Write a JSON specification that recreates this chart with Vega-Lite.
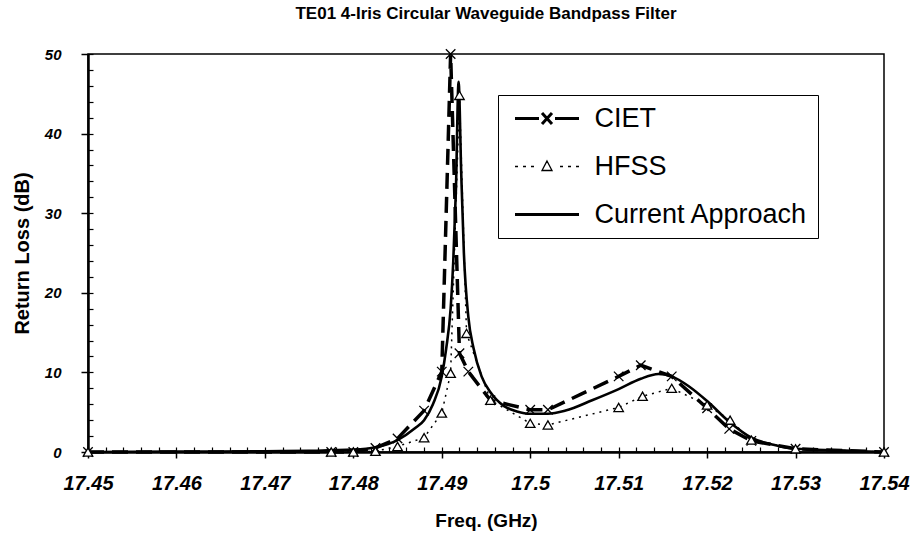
{
  "$schema": "https://vega.github.io/schema/vega-lite/v6.json",
  "width": 796,
  "height": 398,
  "autosize": {"type": "none"},
  "padding": {"left": 88, "top": 54, "right": 28, "bottom": 87},
  "background": "white",
  "title": {
    "text": "TE01 4-Iris Circular Waveguide Bandpass Filter",
    "font": "Liberation Sans",
    "fontSize": 17,
    "fontWeight": "bold",
    "color": "black",
    "anchor": "middle",
    "offset": 24
  },
  "config": {
    "view": {"stroke": "black", "strokeWidth": 1.5},
    "axis": {"grid": false, "domainColor": "black", "tickColor": "black", "labelColor": "black", "titleColor": "black"}
  },
  "data": {
    "values": [
      {"series": "CIET", "f": 17.45, "v": 0},
      {"series": "CIET", "f": 17.4775, "v": 0},
      {"series": "CIET", "f": 17.48, "v": 0},
      {"series": "CIET", "f": 17.4825, "v": 0.5},
      {"series": "CIET", "f": 17.485, "v": 1.7},
      {"series": "CIET", "f": 17.488, "v": 5.2},
      {"series": "CIET", "f": 17.49, "v": 10.1},
      {"series": "CIET", "f": 17.491, "v": 50},
      {"series": "CIET", "f": 17.492, "v": 12.4},
      {"series": "CIET", "f": 17.493, "v": 10.1},
      {"series": "CIET", "f": 17.4955, "v": 6.5},
      {"series": "CIET", "f": 17.5, "v": 5.3},
      {"series": "CIET", "f": 17.502, "v": 5.3},
      {"series": "CIET", "f": 17.51, "v": 9.5},
      {"series": "CIET", "f": 17.5125, "v": 10.9},
      {"series": "CIET", "f": 17.516, "v": 9.5},
      {"series": "CIET", "f": 17.52, "v": 5.5},
      {"series": "CIET", "f": 17.5225, "v": 2.9},
      {"series": "CIET", "f": 17.525, "v": 1.4},
      {"series": "CIET", "f": 17.53, "v": 0.4},
      {"series": "CIET", "f": 17.54, "v": 0},
      {"series": "HFSS", "f": 17.45, "v": 0},
      {"series": "HFSS", "f": 17.4775, "v": 0},
      {"series": "HFSS", "f": 17.48, "v": 0},
      {"series": "HFSS", "f": 17.4825, "v": 0.1},
      {"series": "HFSS", "f": 17.485, "v": 0.7},
      {"series": "HFSS", "f": 17.488, "v": 1.8},
      {"series": "HFSS", "f": 17.49, "v": 4.9},
      {"series": "HFSS", "f": 17.491, "v": 9.9},
      {"series": "HFSS", "f": 17.492, "v": 44.8},
      {"series": "HFSS", "f": 17.4928, "v": 14.9},
      {"series": "HFSS", "f": 17.4955, "v": 6.5},
      {"series": "HFSS", "f": 17.5, "v": 3.6},
      {"series": "HFSS", "f": 17.502, "v": 3.4},
      {"series": "HFSS", "f": 17.51, "v": 5.6},
      {"series": "HFSS", "f": 17.5127, "v": 7.0},
      {"series": "HFSS", "f": 17.516, "v": 8.0},
      {"series": "HFSS", "f": 17.52, "v": 5.9},
      {"series": "HFSS", "f": 17.5226, "v": 4.0},
      {"series": "HFSS", "f": 17.525, "v": 1.5},
      {"series": "HFSS", "f": 17.53, "v": 0.4},
      {"series": "HFSS", "f": 17.54, "v": 0},
      {"series": "Current Approach", "f": 17.45, "v": 0},
      {"series": "Current Approach", "f": 17.46, "v": 0.05},
      {"series": "Current Approach", "f": 17.47, "v": 0.1},
      {"series": "Current Approach", "f": 17.475, "v": 0.15},
      {"series": "Current Approach", "f": 17.48, "v": 0.3},
      {"series": "Current Approach", "f": 17.4825, "v": 0.6},
      {"series": "Current Approach", "f": 17.485, "v": 1.5},
      {"series": "Current Approach", "f": 17.487, "v": 3},
      {"series": "Current Approach", "f": 17.488, "v": 4},
      {"series": "Current Approach", "f": 17.489, "v": 6},
      {"series": "Current Approach", "f": 17.49, "v": 9.5},
      {"series": "Current Approach", "f": 17.4905, "v": 13},
      {"series": "Current Approach", "f": 17.491, "v": 18},
      {"series": "Current Approach", "f": 17.4913, "v": 24},
      {"series": "Current Approach", "f": 17.4916, "v": 33},
      {"series": "Current Approach", "f": 17.4919, "v": 46.5},
      {"series": "Current Approach", "f": 17.4922, "v": 35},
      {"series": "Current Approach", "f": 17.4925, "v": 25},
      {"series": "Current Approach", "f": 17.493, "v": 17},
      {"series": "Current Approach", "f": 17.4936, "v": 13},
      {"series": "Current Approach", "f": 17.4945, "v": 9.5},
      {"series": "Current Approach", "f": 17.4955, "v": 7.5},
      {"series": "Current Approach", "f": 17.497, "v": 5.8},
      {"series": "Current Approach", "f": 17.4985, "v": 5.1},
      {"series": "Current Approach", "f": 17.5, "v": 4.8},
      {"series": "Current Approach", "f": 17.502, "v": 4.8},
      {"series": "Current Approach", "f": 17.504, "v": 5.2},
      {"series": "Current Approach", "f": 17.507, "v": 6.5},
      {"series": "Current Approach", "f": 17.51, "v": 7.9},
      {"series": "Current Approach", "f": 17.5125, "v": 9.2},
      {"series": "Current Approach", "f": 17.5145, "v": 9.8},
      {"series": "Current Approach", "f": 17.516, "v": 9.5},
      {"series": "Current Approach", "f": 17.518, "v": 8.2},
      {"series": "Current Approach", "f": 17.52, "v": 6.4},
      {"series": "Current Approach", "f": 17.5225, "v": 3.8},
      {"series": "Current Approach", "f": 17.525, "v": 1.8},
      {"series": "Current Approach", "f": 17.5275, "v": 0.9},
      {"series": "Current Approach", "f": 17.53, "v": 0.4},
      {"series": "Current Approach", "f": 17.535, "v": 0.2},
      {"series": "Current Approach", "f": 17.54, "v": 0}
    ]
  },
  "resolve": {"axis": {"x": "independent", "y": "independent"}},
  "layer": [
    {
      "transform": [{"filter": "datum.series == 'Current Approach'"}],
      "mark": {"type": "line", "interpolate": "monotone", "strokeWidth": 2.6, "clip": false},
      "encoding": {
        "x": {
          "field": "f", "type": "quantitative",
          "scale": {"domain": [17.45, 17.54], "nice": false, "zero": false},
          "axis": {
            "orient": "bottom",
            "values": [17.45, 17.46, 17.47, 17.48, 17.49, 17.5, 17.51, 17.52, 17.53, 17.54],
            "format": ".4~f",
            "title": "Freq. (GHz)",
            "titleFont": "Liberation Sans", "titleFontSize": 19, "titleFontWeight": "bold",
            "titlePadding": 18,
            "labelFont": "Liberation Sans", "labelFontSize": 20, "labelFontWeight": "bold", "labelFontStyle": "italic",
            "labelPadding": 15, "labelFlush": false, "labelOverlap": false,
            "tickSize": 6, "tickWidth": 1.5, "domainWidth": 2.5
          }
        },
        "y": {
          "field": "v", "type": "quantitative",
          "scale": {"domain": [0, 50], "nice": false},
          "axis": {
            "orient": "left",
            "values": [0, 10, 20, 30, 40, 50],
            "title": "Return Loss (dB)",
            "titleFont": "Liberation Sans", "titleFontSize": 20, "titleFontWeight": "bold",
            "titlePadding": 12,
            "labelFont": "Liberation Sans", "labelFontSize": 15, "labelFontWeight": "bold", "labelFontStyle": "italic",
            "labelPadding": 20, "labelFlush": false, "labelOverlap": false,
            "tickSize": 7, "tickWidth": 1.5, "domainWidth": 2.5
          }
        },
        "color": {
          "field": "series", "type": "nominal",
          "scale": {"domain": ["CIET", "HFSS", "Current Approach"], "range": ["black", "black", "black"]},
          "legend": {
            "title": null,
            "orient": "none",
            "legendX": 410,
            "legendY": 41,
            "direction": "vertical",
            "fillColor": "white",
            "strokeColor": "black",
            "padding": 10,
            "labelFont": "Liberation Sans",
            "labelFontSize": 27,
            "labelColor": "black",
            "labelLimit": 400,
            "labelOffset": 34,
            "rowPadding": 20,
            "symbolSize": 400,
            "symbolOffset": 25.5,
            "symbolStrokeColor": "black",
            "symbolStrokeWidth": 3,
            "encode": {
              "symbols": {
                "update": {
                  "shape": {"signal": "datum.value == 'CIET' ? 'M-3.2,0H-0.8M0.8,0H3.2M-0.5,-0.55L0.5,0.55M-0.5,0.55L0.5,-0.55' : datum.value == 'HFSS' ? 'M-3.2,0H-2.9M-2.4,0H-2.1M-1.6,0H-1.3M1.3,0H1.6M2.1,0H2.4M2.9,0H3.2M0,-0.55L0.5,0.4L-0.5,0.4Z' : 'M-3.2,0H3.2'"},
                  "strokeWidth": {"signal": "datum.value == 'HFSS' ? 1.3 : 3"},
                  "fill": {"value": "transparent"},
                  "stroke": {"value": "black"}
                }
              }
            }
          }
        }
      }
    },
    {
      "transform": [{"filter": "datum.series == 'CIET'"}],
      "mark": {"type": "line", "strokeWidth": 3.5, "strokeDash": [16, 8], "clip": false},
      "encoding": {
        "x": {"field": "f", "type": "quantitative", "axis": null},
        "y": {"field": "v", "type": "quantitative", "axis": null},
        "color": {"field": "series", "type": "nominal", "legend": null}
      }
    },
    {
      "transform": [{"filter": "datum.series == 'HFSS'"}],
      "mark": {"type": "line", "strokeWidth": 1.5, "strokeDash": [2, 5], "clip": false},
      "encoding": {
        "x": {"field": "f", "type": "quantitative", "axis": null},
        "y": {"field": "v", "type": "quantitative", "axis": null},
        "color": {"field": "series", "type": "nominal", "legend": null}
      }
    },
    {
      "transform": [{"filter": "datum.series != 'Current Approach'"}],
      "mark": {"type": "point", "filled": true, "fill": "white", "stroke": "black", "strokeWidth": 1.3, "opacity": 1, "clip": false},
      "encoding": {
        "x": {
          "field": "f", "type": "quantitative",
          "axis": {
            "orient": "bottom",
            "values": [17.45, 17.452, 17.454, 17.456, 17.458, 17.46, 17.462, 17.464, 17.466, 17.468, 17.47, 17.472, 17.474, 17.476, 17.478, 17.48, 17.482, 17.484, 17.486, 17.488, 17.49, 17.492, 17.494, 17.496, 17.498, 17.5, 17.502, 17.504, 17.506, 17.508, 17.51, 17.512, 17.514, 17.516, 17.518, 17.52, 17.522, 17.524, 17.526, 17.528, 17.53, 17.532, 17.534, 17.536, 17.538, 17.54],
            "labels": false, "domain": false, "title": null,
            "tickSize": -5, "tickWidth": 1.2
          }
        },
        "y": {
          "field": "v", "type": "quantitative",
          "axis": {
            "orient": "left",
            "values": [0, 2, 4, 6, 8, 10, 12, 14, 16, 18, 20, 22, 24, 26, 28, 30, 32, 34, 36, 38, 40, 42, 44, 46, 48, 50],
            "labels": false, "domain": false, "title": null,
            "tickSize": -5, "tickWidth": 1.2
          }
        },
        "shape": {
          "field": "series", "type": "nominal",
          "scale": {"domain": ["CIET", "HFSS"], "range": ["M-1,-1L1,1M-1,1L1,-1", "triangle-up"]},
          "legend": null
        },
        "size": {"value": 90}
      }
    }
  ]
}
